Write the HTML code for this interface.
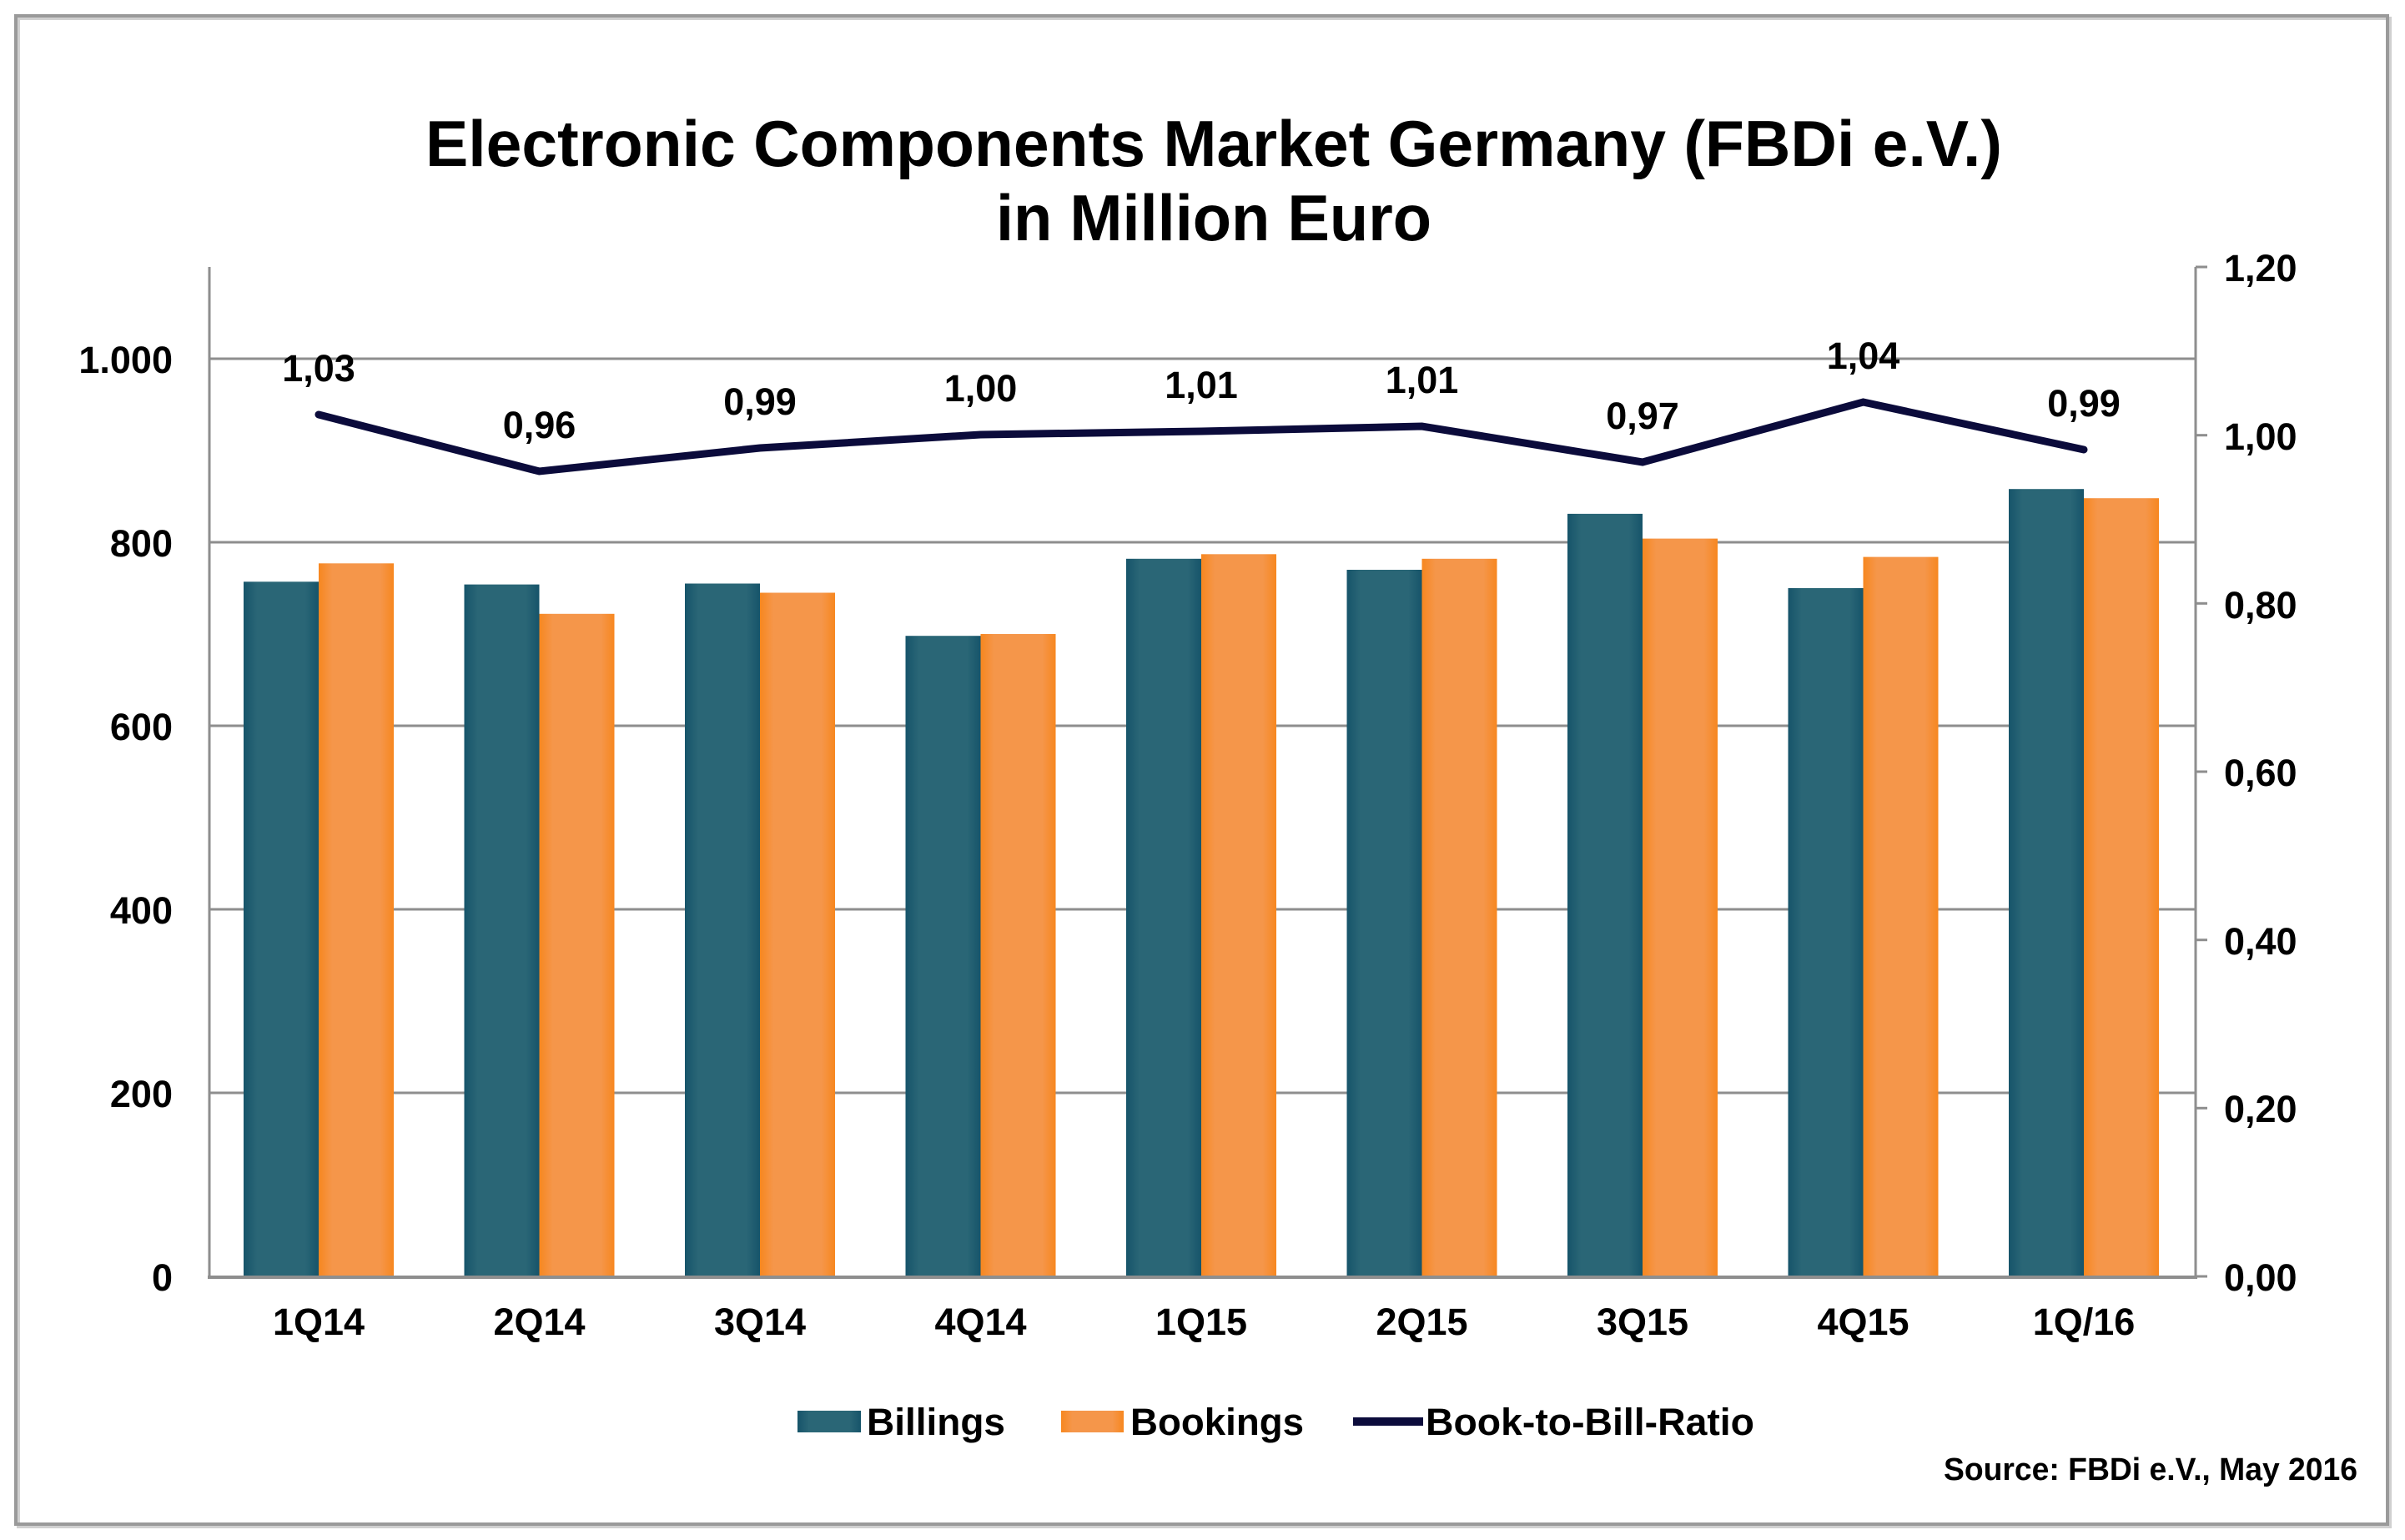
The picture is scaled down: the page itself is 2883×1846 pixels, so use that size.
<!DOCTYPE html>
<html><head><meta charset="utf-8"><style>
html,body{margin:0;padding:0;background:#fff;}
svg{display:block;}
</style></head><body>
<svg width="2883" height="1846" viewBox="0 0 2883 1846" xmlns="http://www.w3.org/2000/svg" font-family="'Liberation Sans', Arial, sans-serif" font-weight="bold">
<defs>
<linearGradient id="gb" x1="0" x2="1" y1="0" y2="0">
<stop offset="0" stop-color="#16546a"/><stop offset="0.18" stop-color="#2a6676"/><stop offset="0.82" stop-color="#2a6676"/><stop offset="1" stop-color="#16546a"/>
</linearGradient>
<linearGradient id="go" x1="0" x2="1" y1="0" y2="0">
<stop offset="0" stop-color="#f7871f"/><stop offset="0.18" stop-color="#f5964a"/><stop offset="0.82" stop-color="#f5964a"/><stop offset="1" stop-color="#f7871f"/>
</linearGradient>
</defs>
<rect x="0" y="0" width="2883" height="1846" fill="#fff"/>
<!-- frame with shadow -->
<rect x="22" y="22" width="2843" height="1808" fill="none" stroke="#d0d0d0" stroke-width="4"/>
<rect x="19" y="19" width="2843" height="1808" fill="none" stroke="#9a9a9a" stroke-width="4"/>

<!-- title -->
<text x="1455" y="199" font-size="78" text-anchor="middle" textLength="1890" lengthAdjust="spacingAndGlyphs">Electronic Components Market Germany (FBDi e.V.)</text>
<text x="1455" y="288" font-size="78" text-anchor="middle" textLength="522" lengthAdjust="spacingAndGlyphs">in Million Euro</text>

<!-- gridlines -->
<g stroke="#8e8e8e" stroke-width="3">
<line x1="251" y1="430" x2="2632" y2="430"/>
<line x1="251" y1="650" x2="2632" y2="650"/>
<line x1="251" y1="870" x2="2632" y2="870"/>
<line x1="251" y1="1090" x2="2632" y2="1090"/>
<line x1="251" y1="1310" x2="2632" y2="1310"/>
</g>

<!-- bars billings -->
<g fill="url(#gb)">
<rect x="292" y="697.3" width="90" height="832.7"/>
<rect x="556.5" y="700.6" width="90" height="829.4"/>
<rect x="821" y="699.5" width="90" height="830.5"/>
<rect x="1085.5" y="762.2" width="90" height="767.8"/>
<rect x="1350" y="669.8" width="90" height="860.2"/>
<rect x="1614.5" y="683" width="90" height="847"/>
<rect x="1879" y="615.9" width="90" height="914.1"/>
<rect x="2143.5" y="705" width="90" height="825"/>
<rect x="2408" y="586.2" width="90" height="943.8"/>
</g>
<!-- bars bookings -->
<g fill="url(#go)">
<rect x="382" y="675.3" width="90" height="854.7"/>
<rect x="646.5" y="735.8" width="90" height="794.2"/>
<rect x="911" y="710.5" width="90" height="819.5"/>
<rect x="1175.5" y="760" width="90" height="770"/>
<rect x="1440" y="664.3" width="90" height="865.7"/>
<rect x="1704.5" y="669.8" width="90" height="860.2"/>
<rect x="1969" y="645.6" width="90" height="884.4"/>
<rect x="2233.5" y="667.6" width="90" height="862.4"/>
<rect x="2498" y="597.2" width="90" height="932.8"/>
</g>

<!-- axes -->
<g stroke="#8e8e8e" stroke-width="3">
<line x1="251" y1="320" x2="251" y2="1531"/>
<line x1="2632" y1="320" x2="2632" y2="1531"/>
<line x1="249" y1="1531" x2="2634" y2="1531" stroke-width="4"/>
<line x1="2632" y1="320" x2="2646" y2="320"/>
<line x1="2632" y1="521.7" x2="2646" y2="521.7"/>
<line x1="2632" y1="723.3" x2="2646" y2="723.3"/>
<line x1="2632" y1="925" x2="2646" y2="925"/>
<line x1="2632" y1="1126.7" x2="2646" y2="1126.7"/>
<line x1="2632" y1="1328.3" x2="2646" y2="1328.3"/>
<line x1="2632" y1="1530" x2="2646" y2="1530"/>
</g>

<!-- ratio line -->
<polyline points="382,497 646.5,565 911,537 1175.5,521 1440,517 1704.5,511 1969,554 2233.5,482 2498,539" fill="none" stroke="#0b0b3b" stroke-width="9" stroke-linejoin="miter" stroke-linecap="round"/>

<!-- data labels -->
<g font-size="45" text-anchor="middle" fill="#000">
<text x="382" y="457">1,03</text>
<text x="646.5" y="525">0,96</text>
<text x="911" y="497">0,99</text>
<text x="1175.5" y="481">1,00</text>
<text x="1440" y="477">1,01</text>
<text x="1704.5" y="471">1,01</text>
<text x="1969" y="514">0,97</text>
<text x="2233.5" y="442">1,04</text>
<text x="2498" y="499">0,99</text>
</g>

<!-- left axis labels -->
<g font-size="45" text-anchor="end" fill="#000">
<text x="207" y="447">1.000</text>
<text x="207" y="667">800</text>
<text x="207" y="887">600</text>
<text x="207" y="1107">400</text>
<text x="207" y="1327">200</text>
<text x="207" y="1547">0</text>
</g>
<!-- right axis labels -->
<g font-size="45" text-anchor="start" fill="#000">
<text x="2666" y="337">1,20</text>
<text x="2666" y="539">1,00</text>
<text x="2666" y="741">0,80</text>
<text x="2666" y="942">0,60</text>
<text x="2666" y="1144">0,40</text>
<text x="2666" y="1345">0,20</text>
<text x="2666" y="1547">0,00</text>
</g>

<!-- x labels -->
<g font-size="45" text-anchor="middle" fill="#000">
<text x="382" y="1600">1Q14</text>
<text x="646.5" y="1600">2Q14</text>
<text x="911" y="1600">3Q14</text>
<text x="1175.5" y="1600">4Q14</text>
<text x="1440" y="1600">1Q15</text>
<text x="1704.5" y="1600">2Q15</text>
<text x="1969" y="1600">3Q15</text>
<text x="2233.5" y="1600">4Q15</text>
<text x="2498" y="1600">1Q/16</text>
</g>

<!-- legend -->
<rect x="956" y="1691" width="76" height="26" fill="url(#gb)"/>
<text x="1039" y="1720" font-size="45" textLength="166" lengthAdjust="spacingAndGlyphs">Billings</text>
<rect x="1272" y="1691" width="75" height="26" fill="url(#go)"/>
<text x="1355" y="1720" font-size="45" textLength="208" lengthAdjust="spacingAndGlyphs">Bookings</text>
<line x1="1622" y1="1704" x2="1706" y2="1704" stroke="#0b0b3b" stroke-width="10"/>
<text x="1709" y="1720" font-size="45" textLength="394" lengthAdjust="spacingAndGlyphs">Book-to-Bill-Ratio</text>

<!-- source -->
<text x="2826" y="1774" font-size="38" text-anchor="end" textLength="496" lengthAdjust="spacingAndGlyphs" font-family="'Liberation Sans Narrow','Liberation Sans',sans-serif">Source: FBDi e.V., May 2016</text>
</svg>
</body></html>
